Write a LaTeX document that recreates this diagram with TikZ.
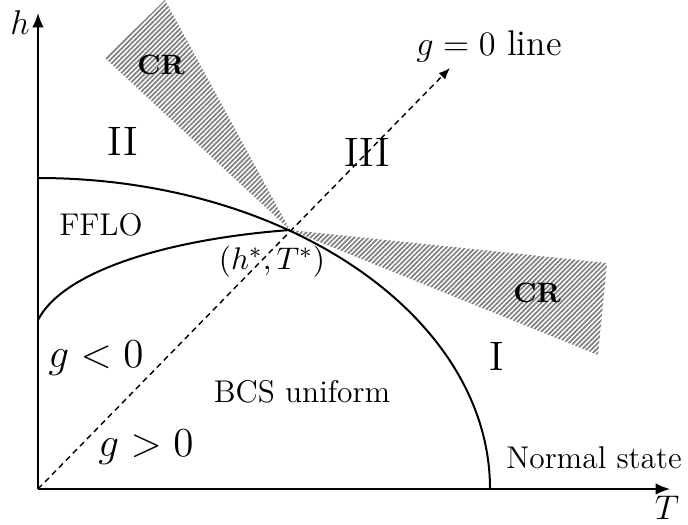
\documentclass[tikz,border=0pt]{standalone}
\usetikzlibrary{arrows.meta, patterns.meta}

\begin{document}
\begin{tikzpicture}[
  x=0.35pt, y=0.35pt,
  axis/.style={line width=0.6pt, -{Latex[length=5pt, width=4pt]}},
  phase/.style={line width=0.7pt},
  gline/.style={line width=0.5pt, dash pattern=on 2pt off 1.5pt, -{Latex[length=4pt, width=3.2pt]}},
  crit/.style={pattern={Lines[angle=45, distance=1.2pt, line width=0.6pt]}, pattern color=gray},
  region/.style={font=\Large},
  crlabel/.style={font=\fontsize{9.8}{12}\selectfont\bfseries},
  lbl/.style={font=\fontsize{11}{13}\selectfont}
  ]
  \useasboundingbox (-38,-35) rectangle (650,489);

  \coordinate (O) at (0,0);
  \coordinate (Tend) at (632,0);
  \coordinate (hend) at (0,476);
  \coordinate (P) at (252,259);
  \coordinate (gend) at (412,421);

  % critical regions
  \fill[crit] (P) -- (67,431) -- (127,489) -- cycle;
  \fill[crit] (P) -- (569,226) -- (560,134) -- cycle;

  % axes
  \draw[axis] (O) -- (Tend);
  \draw[axis] (O) -- (hend);
  \node[font=\large] (hlab) at (-18,466) {$h$};
  \node[font=\large] (Tlab) at (629,-19) {$T$};

  % phase boundaries
  \draw[phase] (0,311) arc[start angle=90, end angle=0, x radius=452, y radius=311];
  \draw[phase] (0,169) .. controls (25,218) and (130,250) .. (P);
  \draw[gline] (O) -- (gend);

  % labels
  \node[crlabel] (CRup) at (123,424) {CR};
  \node[crlabel] (CRlow) at (499,196) {CR};
  \node[region] (II) at (85,348) {II};
  \node[region] (III) at (329,337) {III};
  \node[region] (I) at (459,133) {I};
  \node[font=\fontsize{12.5}{15}\selectfont] (gzero) at (451,443) {$g=0$ line};
  \node[lbl] (fflo) at (63,264) {FFLO};
  \node[lbl] (crit) at (234,227) {$(h^{*},T^{*})$};
  \node[region] (gneg) at (58,131) {$g<0$};
  \node[region] (gpos) at (108,42) {$g>0$};
  \node[lbl] (bcs) at (264,97) {BCS uniform};
  \node[lbl] (normal) at (556,31) {Normal state};
\end{tikzpicture}
\end{document}
